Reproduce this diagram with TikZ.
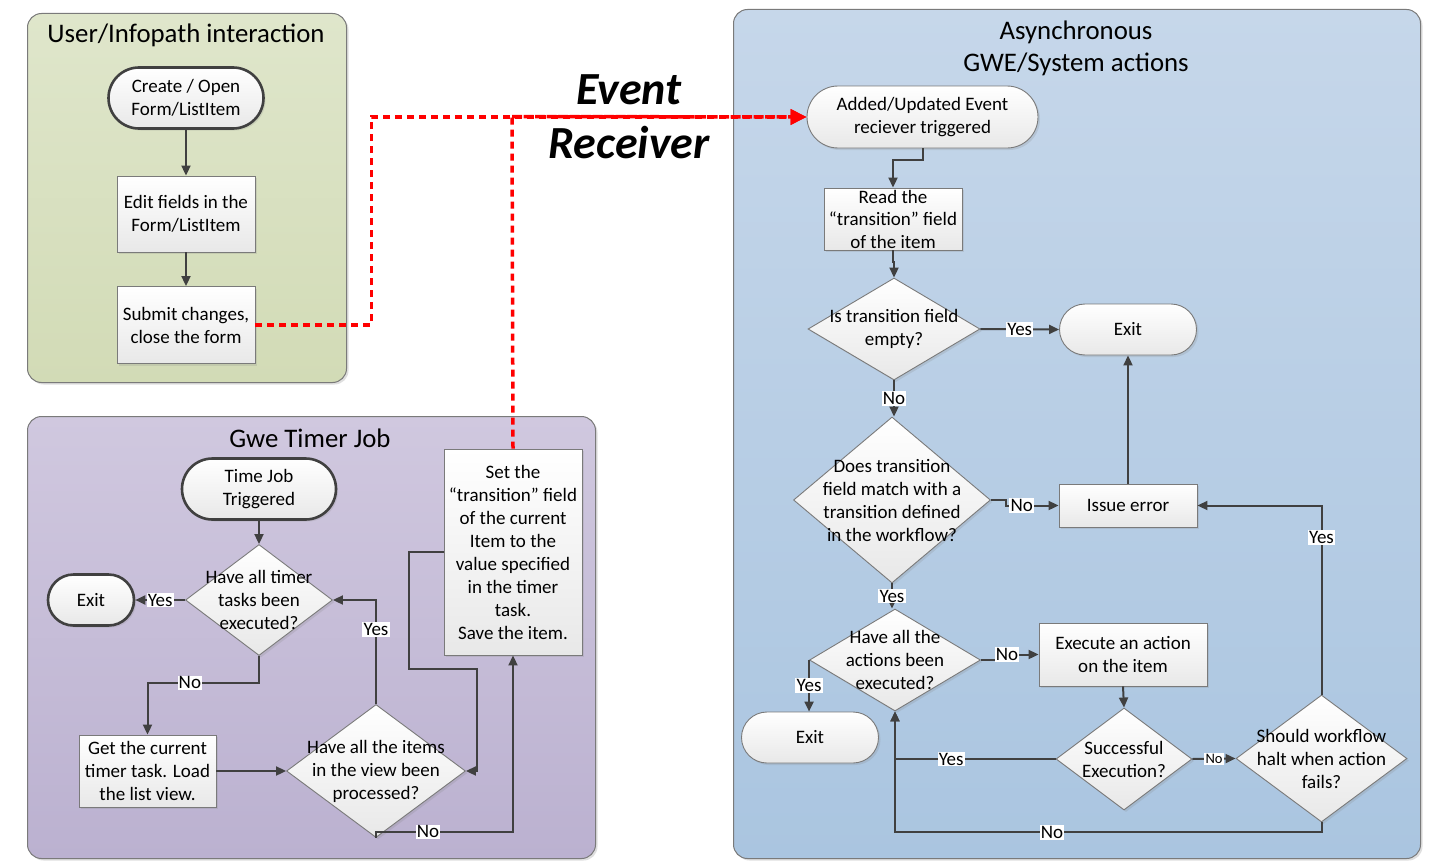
\documentclass[tikz,border=0pt]{standalone}
\usepackage{fontspec}
\setmainfont{Carlito}
\usetikzlibrary{shapes.geometric,shapes.misc,arrows.meta,shadows}
\definecolor{lineg}{HTML}{404040}
\definecolor{bordg}{HTML}{7A7A7A}
\definecolor{grtop}{RGB}{223,230,203}
\definecolor{grbot}{RGB}{210,219,182}
\definecolor{putop}{RGB}{208,200,223}
\definecolor{pubot}{RGB}{187,177,208}
\definecolor{bltop}{RGB}{198,215,234}
\definecolor{blbot}{RGB}{170,197,224}
\newcommand\bodyf{\fontsize{19}{23}\selectfont}
\newcommand\titf{\fontsize{26.8}{32}\selectfont}
\newcommand\labf{\fontsize{19}{20}\selectfont}
\begin{document}
\begin{tikzpicture}[x=1pt,y=-1pt,
  panel/.style={draw=bordg,line width=1,rounded corners=14,anchor=north west,inner sep=0,
    drop shadow={shadow xshift=2pt,shadow yshift=-2pt,opacity=0.25}},
  nshade/.style={top color=white,bottom color=black!9},
  nshadow/.style={drop shadow={shadow xshift=2pt,shadow yshift=-2pt,opacity=0.2}},
  term/.style={rounded rectangle,draw=lineg,line width=2.6,nshade,nshadow,inner sep=0,font=\bodyf,align=center},
  termthin/.style={rounded rectangle,draw=bordg,line width=0.9,nshade,nshadow,inner sep=0,font=\bodyf,align=center},
  proc/.style={rectangle,draw=bordg,line width=0.9,nshade,nshadow,inner sep=0,font=\bodyf,align=center},
  dia/.style={diamond,draw=bordg,line width=0.9,nshade,nshadow,inner sep=0},
  dtext/.style={font=\bodyf,align=center,inner sep=0},
  conn/.style={draw=lineg,line width=2,-{Triangle[length=10pt,width=9pt]}},
  lab/.style={fill=white,inner sep=1.2pt,font=\labf,text=black},
  reddash/.style={draw=red,line width=3.5,dash pattern=on 7pt off 5pt},
  redtip/.style={-{Triangle[length=16pt,width=15pt]}}
]
\useasboundingbox (0,0) rectangle (1440,867);
\fill[white] (0,0) rectangle (1440,867);

% panels
\node[panel,top color=grtop,bottom color=grbot,minimum width=319,minimum height=369] (p1) at (27,13) {};
\node[panel,top color=putop,bottom color=pubot,minimum width=568,minimum height=442] (p2) at (27,416) {};
\node[panel,top color=bltop,bottom color=blbot,minimum width=687,minimum height=849] (p3) at (733,9) {};
\node[font=\titf] (t1) at (186,35) {User/Infopath interaction};
\node[font=\titf] (t2) at (310,438) {Gwe Timer Job};
\node[font=\titf,align=center] (t3) at (1076,48.5) {Asynchronous\\GWE/System actions};

% event receiver text
\node[font=\fontsize{46}{54}\selectfont\bfseries\itshape] (ev1) at (629,90) {Event};
\node[font=\fontsize{46}{54}\selectfont\bfseries\itshape] (ev2) at (629,143) {Receiver};

% green panel
\node[term,minimum width=155,minimum height=61] (create) at (186,98) {Create / Open\\Form/ListItem};
\node[proc,minimum width=138,minimum height=76] (edit) at (186,214) {Edit fields in the\\Form/ListItem};
\node[proc,minimum width=138,minimum height=77] (submit) at (186,325) {Submit changes,\\close the form};
\draw[conn] (create.south) -- (edit.north);
\draw[conn] (edit.south) -- (submit.north);

% purple panel
\node[term,minimum width=154,minimum height=61] (tj) at (259,489) {Time Job\\Triggered};
\node[dia,minimum width=147,minimum height=111,label={[dtext]center:Have all timer\\tasks been\\executed?}] (dt) at (259,600) {};
\node[term,minimum width=86,minimum height=51] (exitp) at (91,600) {Exit};
\node[proc,minimum width=137,minimum height=72] (getb) at (147.5,771) {Get the current\\timer task. Load\\the list view.};
\node[dia,minimum width=179,minimum height=133,label={[dtext]center:Have all the items\\in the view been\\processed?}] (di) at (376,771) {};
\node[proc,minimum width=138,minimum height=206] (setb) at (513,552) {Set the\\“transition” field\\of the current\\Item to the\\value specified\\in the timer\\task.\\Save the item.};
\draw[conn] (tj.south) -- (dt.north);
\draw[conn] (dt.west) -- node[lab]{Yes} (exitp.east);
\draw[conn] (dt.south) -- ++(0,27) -| node[lab,pos=0.31]{No} (getb.north);
\draw[conn] (getb.east) -- (di.west);
\draw[conn] (di.north) |- node[lab,pos=0.36]{Yes} (dt.east);
\draw[conn] (setb.west) -- ++(-35,0) -- ++(0,117) -- ++(68,0) -- ++(0,102) -- (di.east);
\draw[conn] (di.south) -- ++(0,-6) -| node[lab,pos=0.19]{No} (setb.south);

% blue panel
\node[termthin,minimum width=231,minimum height=62] (added) at (922.5,117) {Added/Updated Event\\reciever triggered};
\node[proc,minimum width=138,minimum height=62,font=\fontsize{19}{22.5}\selectfont] (read) at (893,219) {Read the\\“transition” field\\of the item};
\node[dia,minimum width=172,minimum height=102,label={[dtext]center:Is transition field\\empty?}] (d1) at (894,329) {};
\node[termthin,minimum width=137,minimum height=51] (exit1) at (1128,329.5) {Exit};
\node[dia,minimum width=197,minimum height=166,label={[dtext]center:Does transition\\field match with a\\transition defined\\in the workflow?}] (d2) at (892,500) {};
\node[proc,minimum width=138,minimum height=43] (issue) at (1128,505.5) {Issue error};
\node[dia,minimum width=171,minimum height=102,label={[dtext]center:Have all the\\actions been\\executed?}] (d3) at (895,660) {};
\node[termthin,minimum width=137,minimum height=51] (exit2) at (810,737.5) {Exit};
\node[proc,minimum width=168,minimum height=63] (exec) at (1123,654.5) {Execute an action\\on the item};
\node[dia,minimum width=136,minimum height=102,label={[dtext]center:Successful\\Execution?}] (d4) at (1124,759) {};
\node[dia,minimum width=171,minimum height=127,label={[dtext]center:Should workflow\\halt when action\\fails?}] (d5) at (1321.5,758.5) {};

\draw[conn] (added.south) -- ++(0,12) -| (read.north);
\draw[conn] (read.south) -- ++(0,12) -| (d1.north);
\draw[conn] (d1.east) -- node[lab]{Yes} (exit1.west);
\draw[conn] (d1.south) -- node[lab]{No} (d1.south |- d2.north);
\draw[conn] (d2.east) -- ++(15,0) |- node[lab,pos=0.65]{No} (issue.west);
\draw[conn] (issue.north) -- (exit1.south);
\draw[conn] (d2.south) -- node[lab]{Yes} (d2.south |- d3.north);
\draw[conn] (d3.west) -- node[lab]{Yes} (d3.west |- exit2.north);
\draw[conn] (d3.east) -- ++(15,0) |- node[lab,pos=0.63]{No} (exec.west);
\draw[conn] (exec.south) -- (d4.north);
\draw[conn] (d4.west) -- node[lab,pos=0.65]{Yes} (d3.south |- d4.west) -- (d3.south);
\draw[conn] (d4.east) -- node[lab,font=\fontsize{14.5}{16}\selectfont]{No} (d5.west);
\draw[conn] (d5.north) |- node[lab,pos=0.415]{Yes} (issue.east);
\draw[conn] (d5.south) -- ++(0,10) -| node[lab,pos=0.316]{No} (d3.south);

% red dashed event receiver connectors
\coordinate (erj) at (512,116.5);
\draw[reddash,redtip] (submit.east) -- ++(116,0) |- (added.west);
\draw[reddash] (setb.north) -- (erj);
\draw[reddash,redtip,dash pattern=on 10pt off 1.5pt] (erj) -- (added.west);
\end{tikzpicture}
\end{document}
